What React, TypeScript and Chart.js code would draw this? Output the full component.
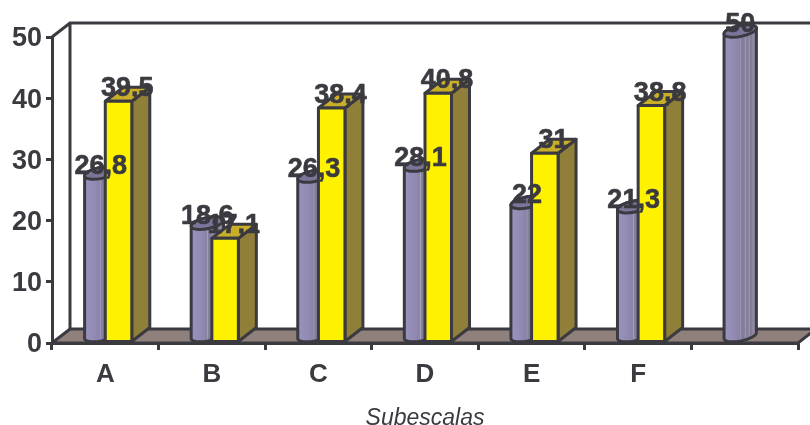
import React, { useEffect, useRef } from "react";
import { Chart, BarController, registerables } from "chart.js";

Chart.register(...registerables);

const categories = ["A", "B", "C", "D", "E", "F", ""];
const cylinderValues = [26.8, 18.6, 26.3, 28.1, 22, 21.3, 50];
const prismValues: (number | null)[] = [39.5, 17.1, 38.4, 40.8, 31, 38.8, null];
const yTicks = [0, 10, 20, 30, 40, 50];
const axisTitle = "Subescalas";

const INK = "#3a3a40";
const FONT = "'Liberation Sans', Arial, sans-serif";
const DEPTH_X = 18;
const DEPTH_Y = 14;
const EDGE = 3;

const formatValue = (v: number) => String(v).replace(".", ",");

// Round column with a tilted elliptical cap and base.
function drawCylinder(ctx: CanvasRenderingContext2D, cx: number, top: number, base: number) {
  const rx = 16.5;
  const ry = 5.5;
  const tilt = -0.2;
  const lift = 6;
  const edgeDy = rx * Math.sin(tilt);
  const topY = top - lift;
  const baseY = base - lift;

  const grad = ctx.createLinearGradient(cx - rx, 0, cx + rx, 0);
  const stops: [number, string][] = [
    [0, "#9a93bf"], [0.3, "#928bb3"], [0.48, "#8a83a6"], [0.5, "#a9a4bd"], [0.52, "#857e9e"],
    [0.62, "#827b9b"], [0.66, "#9a95ad"], [0.7, "#807996"], [0.78, "#968fa9"], [0.82, "#7f7894"],
    [0.9, "#938ca6"], [1, "#7a7390"],
  ];
  stops.forEach(([o, c]) => grad.addColorStop(o, c));

  ctx.beginPath();
  ctx.ellipse(cx, baseY, rx, ry, tilt, 0, Math.PI, false);
  ctx.lineTo(cx - rx * Math.cos(tilt), topY - edgeDy);
  ctx.ellipse(cx, topY, rx, ry, tilt, Math.PI, 0, false);
  ctx.closePath();
  ctx.fillStyle = grad;
  ctx.fill();
  ctx.lineWidth = EDGE;
  ctx.strokeStyle = INK;
  ctx.stroke();

  ctx.beginPath();
  ctx.ellipse(cx, topY, rx, ry, tilt, 0, Math.PI * 2);
  ctx.fillStyle = "#7d7599";
  ctx.fill();
  ctx.stroke();
}

// Square column: front face, lit top and shaded side.
function drawPrism(ctx: CanvasRenderingContext2D, left: number, right: number, top: number, base: number, colors: string[]) {
  const poly = (pts: number[][], fill: string) => {
    ctx.beginPath();
    pts.forEach(([x, y], i) => (i ? ctx.lineTo(x, y) : ctx.moveTo(x, y)));
    ctx.closePath();
    ctx.fillStyle = fill;
    ctx.fill();
    ctx.lineWidth = EDGE;
    ctx.lineJoin = "round";
    ctx.strokeStyle = INK;
    ctx.stroke();
  };
  poly([[right, top], [right + DEPTH_X, top - DEPTH_Y], [right + DEPTH_X, base - DEPTH_Y], [right, base]], colors[2]);
  poly([[left, top], [left + DEPTH_X, top - DEPTH_Y], [right + DEPTH_X, top - DEPTH_Y], [right, top]], colors[1]);
  poly([[left, top], [right, top], [right, base], [left, base]], colors[0]);
}

class Column3DController extends BarController {
  static id = "column3d";
  static defaults = BarController.defaults;
  static overrides = BarController.overrides;

  draw() {
    const ctx = this.chart.ctx;
    const ds: any = this.getDataset();
    const xScale: any = this.chart.scales.x;
    this._cachedMeta.data.forEach((el: any, i: number) => {
      if (ds.data[i] === null) return;
      const { y, base } = el.getProps(["y", "base"], true);
      const centre = xScale.getPixelForValue(i);
      if (ds.shape === "round") {
        drawCylinder(ctx, centre - 4.5, y, base);
      } else {
        drawPrism(ctx, centre, centre + 26.5, y, base, [ds.backgroundColor, ds.topColor, ds.sideColor]);
      }
    });
  }
}
Chart.register(Column3DController);

const wallsAndFloor = {
  id: "wallsAndFloor",
  beforeDraw(chart: any) {
    const { ctx, chartArea: a } = chart;
    ctx.save();
    ctx.strokeStyle = INK;
    ctx.lineWidth = EDGE;
    ctx.beginPath();
    ctx.moveTo(a.left, a.bottom);
    ctx.lineTo(a.left + DEPTH_X, a.bottom - DEPTH_Y);
    ctx.lineTo(a.right + DEPTH_X, a.bottom - DEPTH_Y);
    ctx.lineTo(a.right, a.bottom);
    ctx.closePath();
    ctx.fillStyle = "#8f807c";
    ctx.fill();
    ctx.stroke();
    ctx.beginPath();
    ctx.moveTo(a.left, a.top);
    ctx.lineTo(a.left + DEPTH_X, a.top - DEPTH_Y);
    ctx.lineTo(a.right + DEPTH_X, a.top - DEPTH_Y);
    ctx.moveTo(a.left + DEPTH_X, a.top - DEPTH_Y);
    ctx.lineTo(a.left + DEPTH_X, a.bottom - DEPTH_Y);
    ctx.stroke();
    ctx.restore();
  },
};

const valueLabels = {
  id: "valueLabels",
  afterDatasetsDraw(chart: any) {
    const { ctx } = chart;
    const xScale = chart.scales.x;
    ctx.save();
    ctx.font = `bold 27px ${FONT}`;
    ctx.fillStyle = INK;
    ctx.strokeStyle = INK;
    ctx.lineWidth = 0.6;
    ctx.textAlign = "center";
    ctx.textBaseline = "alphabetic";
    chart.data.datasets.forEach((ds: any, d: number) => {
      chart.getDatasetMeta(d).data.forEach((el: any, i: number) => {
        const v = ds.data[i];
        if (v === null) return;
        const { y } = el.getProps(["y"], true);
        const centre = xScale.getPixelForValue(i);
        const cx = ds.shape === "round" ? centre - 4.5 : centre + 22;
        ctx.fillText(formatValue(v), cx, y - 5);
        ctx.strokeText(formatValue(v), cx, y - 5);
      });
    });
    ctx.restore();
  },
};

export default function App() {
  const ref = useRef<HTMLCanvasElement>(null);

  useEffect(() => {
    const chart = new Chart(ref.current!, {
      type: "column3d" as any,
      data: {
        labels: categories,
        datasets: [
          {
            label: "Serie 1",
            data: cylinderValues,
            shape: "round",
            backgroundColor: "#8f88ad",
            clip: false,
            order: 2,
          },
          {
            label: "Serie 2",
            data: prismValues,
            shape: "square",
            backgroundColor: "#fff200",
            topColor: "#c9ae2a",
            sideColor: "#8f7f38",
            clip: false,
            order: 1,
          },
        ] as any,
      },
      options: {
        animation: false,
        responsive: false,
        events: [],
        layout: { padding: { top: 37, right: 12, left: 0, bottom: 0 } },
        plugins: { legend: { display: false }, tooltip: { enabled: false } },
        categoryPercentage: 0.4,
        barPercentage: 1,
        scales: {
          x: {
            type: "category",
            offset: true,
            afterFit: (s: any) => { s.height = 82; },
            border: { color: INK, width: 3 },
            grid: { offset: true, drawOnChartArea: false, drawTicks: true, tickLength: 7, color: INK, lineWidth: 3 },
            ticks: {
              color: INK, padding: 9, maxRotation: 0,
              font: { family: FONT, size: 26, weight: "bold" },
            },
            title: {
              display: true, text: axisTitle, color: INK, padding: { top: 0, bottom: -7 },
              font: { family: FONT, size: 23, style: "italic", weight: "normal" },
            },
          },
          y: {
            min: 0,
            max: 50,
            afterFit: (s: any) => { s.width = 52; },
            afterBuildTicks: (s: any) => { s.ticks = yTicks.map((value) => ({ value })); },
            border: { color: INK, width: 3 },
            grid: { drawOnChartArea: false, drawTicks: true, tickLength: 6, color: INK, lineWidth: 3 },
            ticks: {
              color: INK, padding: 4, labelOffset: 2,
              font: { family: FONT, size: 27, weight: "bold" },
            },
          },
        },
      } as any,
      plugins: [wallsAndFloor, valueLabels],
    });
    return () => chart.destroy();
  }, []);

  return (
    <div style={{ position: "fixed", left: 0, top: 0, width: 810, height: 425, background: "#fff", overflow: "hidden" }}>
      <canvas ref={ref} width={810} height={425} style={{ display: "block" }} />
    </div>
  );
}
